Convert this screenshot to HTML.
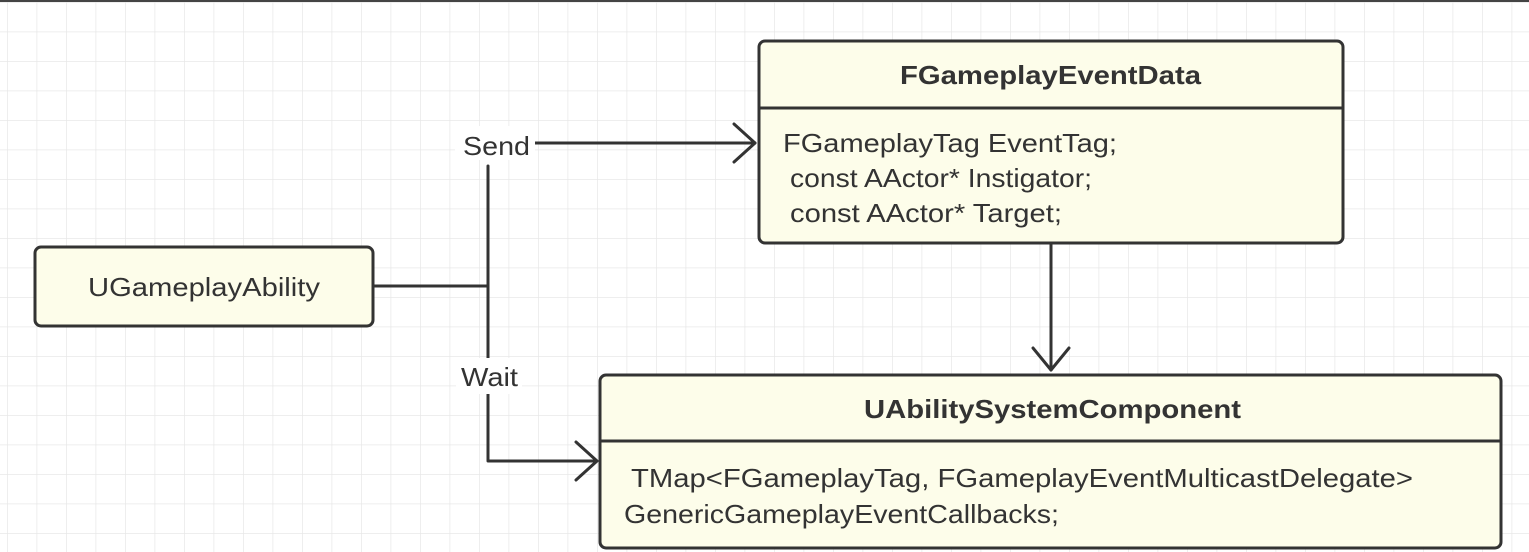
<!DOCTYPE html>
<html><head><style>
html,body{margin:0;padding:0;width:1529px;height:552px;overflow:hidden;background:#fff}
svg text{font-family:"Liberation Sans",Arial,sans-serif}
</style></head><body>
<svg width="1529" height="552" viewBox="0 0 1529 552" xmlns="http://www.w3.org/2000/svg">
<defs>
<pattern id="g" x="7" y="2" width="29.5" height="29.5" patternUnits="userSpaceOnUse">
<path d="M0 0V29.5M0 0H29.5" stroke="#e8e8e8" stroke-width="1.5" fill="none"/>
</pattern>
</defs>
<rect width="1529" height="552" fill="url(#g)"/>
<rect x="0" y="0" width="1529" height="2" fill="#444"/>
<g stroke="#333" stroke-width="3" fill="none" stroke-linecap="round" stroke-linejoin="round">
<path d="M373 286H488"/>
<path d="M488 166V461H596"/>
<path d="M576 442L597 461L576 480"/>
<path d="M533 143H755"/>
<path d="M734 124L755 143L734 162"/>
<path d="M1051 243V370"/>
<path d="M1033 348L1051 370L1069 348"/>
</g>
<rect x="455" y="126" width="80" height="34" fill="#fff"/>
<text x="463" y="155" font-size="26" fill="#333" textLength="67" lengthAdjust="spacingAndGlyphs">Send</text>
<rect x="456" y="358" width="66" height="36" fill="#fff"/>
<text x="461" y="386" font-size="26" fill="#333" textLength="57" lengthAdjust="spacingAndGlyphs">Wait</text>
<rect x="35" y="247" width="338" height="79" rx="6" fill="#fdfdea" stroke="#333" stroke-width="3"/>
<text x="88" y="296" font-size="26" fill="#333" textLength="232" lengthAdjust="spacingAndGlyphs">UGameplayAbility</text>
<rect x="759" y="41" width="584" height="202" rx="6" fill="#fdfdea" stroke="#333" stroke-width="3"/>
<path d="M759 108H1343" stroke="#333" stroke-width="3"/>
<text x="900" y="84" font-size="26" font-weight="bold" fill="#333" textLength="301" lengthAdjust="spacingAndGlyphs">FGameplayEventData</text>
<text x="783" y="152" font-size="26" fill="#333" textLength="334" lengthAdjust="spacingAndGlyphs">FGameplayTag EventTag;</text>
<text x="790" y="187" font-size="26" fill="#333" textLength="302" lengthAdjust="spacingAndGlyphs">const AActor* Instigator;</text>
<text x="790" y="222" font-size="26" fill="#333" textLength="272" lengthAdjust="spacingAndGlyphs">const AActor* Target;</text>
<rect x="600" y="375" width="901" height="173" rx="6" fill="#fdfdea" stroke="#333" stroke-width="3"/>
<path d="M600 441H1501" stroke="#333" stroke-width="3"/>
<text x="864" y="418" font-size="26" font-weight="bold" fill="#333" textLength="377" lengthAdjust="spacingAndGlyphs">UAbilitySystemComponent</text>
<text x="631" y="487" font-size="26" fill="#333" textLength="782" lengthAdjust="spacingAndGlyphs">TMap&lt;FGameplayTag, FGameplayEventMulticastDelegate&gt;</text>
<text x="624" y="523" font-size="26" fill="#333" textLength="435" lengthAdjust="spacingAndGlyphs">GenericGameplayEventCallbacks;</text>
</svg>
</body></html>
